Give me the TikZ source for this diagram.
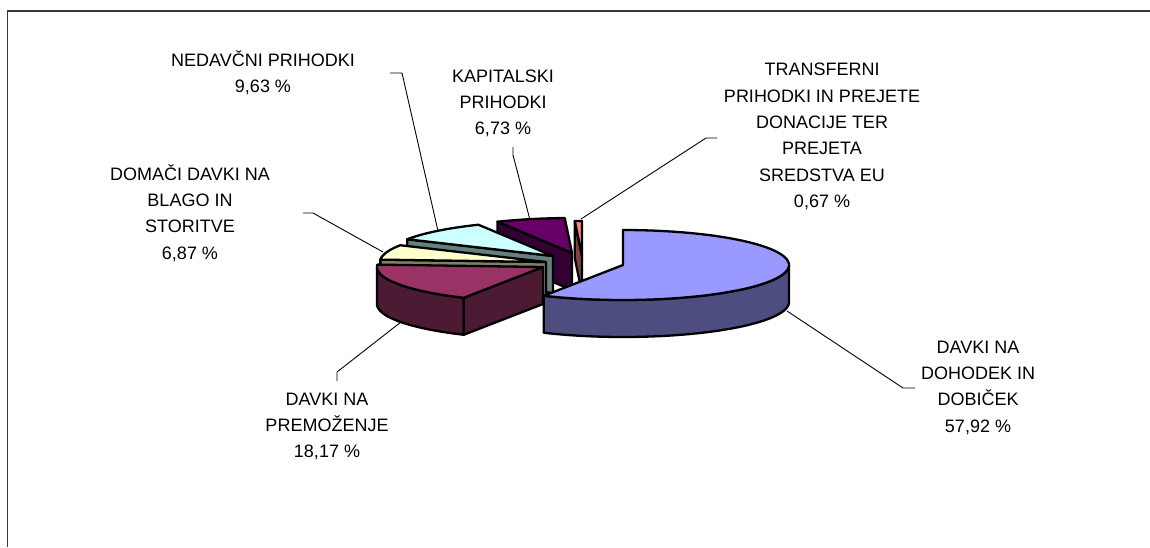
\documentclass[tikz,border=0pt]{standalone}
\usepackage{fontspec}
\setmainfont{Liberation Sans}
\definecolor{blueTop}{HTML}{9999FF}
\definecolor{blueSide}{HTML}{4D4D80}
\definecolor{plumTop}{HTML}{993366}
\definecolor{plumSide}{HTML}{4D1A33}
\definecolor{ivoryTop}{HTML}{FFFFCC}
\definecolor{ivorySide}{HTML}{808066}
\definecolor{aquaTop}{HTML}{CCFFFF}
\definecolor{aquaSide}{HTML}{668080}
\definecolor{purpTop}{HTML}{660066}
\definecolor{purpSide}{HTML}{330033}
\definecolor{coralTop}{HTML}{FF8080}
\definecolor{coralSide}{HTML}{804040}
\definecolor{frameGray}{HTML}{3A3A3A}
\newcommand\pieA{166}
\newcommand\pieB{35}
\newcommand\pieH{37}
% top face: center x, center y, angle from, angle to, colour
\newcommand\topface[5]{%
  \filldraw[piefill, fill=#5] ({#1},{#2}) -- plot[domain=#3:#4, samples=60] ({#1+\pieA*cos(\x)},{#2-\pieB*sin(\x)}) -- cycle;}
% outer side between two front angles
\newcommand\outerside[5]{%
  \filldraw[piefill, fill=#5] plot[domain=#3:#4, samples=60] ({#1+\pieA*cos(\x)},{#2-\pieB*sin(\x)}) -- plot[domain=#4:#3, samples=60] ({#1+\pieA*cos(\x)},{#2+\pieH-\pieB*sin(\x)}) -- cycle;}
% radial face at one angle
\newcommand\radface[4]{%
  \filldraw[piefill, fill=#4] ({#1},{#2}) -- ({#1+\pieA*cos(#3)},{#2-\pieB*sin(#3)}) -- ({#1+\pieA*cos(#3)},{#2+\pieH-\pieB*sin(#3)}) -- ({#1},{#2+\pieH}) -- cycle;}
\begin{document}
\begin{tikzpicture}[x=1pt,y=-1pt,
  piefill/.style={draw=black, line width=2.3pt, line join=round},
  leader/.style={draw=black, line width=0.9pt},
  frameline/.style={draw=frameGray, line width=1.4pt},
  lbl/.style={font=\fontsize{18}{26.3}\selectfont, align=center, inner sep=0pt, anchor=north}]
\useasboundingbox[fill=white] (0,0) rectangle (1150,547);
% frame
\coordinate (frBL) at (7.5,547);
\coordinate (frTL) at (7.5,11);
\coordinate (frTR) at (1150,11);
\draw[frameline] (frBL) -- (frTL) -- (frTR);
% slices, back to front
% transferni (coral)
\radface{582}{256}{92.5}{coralSide}
\topface{582}{256}{90}{92.5}{coralTop}
% kapitalski (purple)
\radface{572}{253}{116.7}{purpSide}
\topface{572}{253}{92.5}{116.7}{purpTop}
% nedavcni (aqua)
\radface{553}{256}{151.4}{aquaSide}
\topface{553}{256}{116.7}{151.4}{aquaTop}
% domaci (ivory)
\radface{546}{262}{176.1}{ivorySide}
\topface{546}{262}{151.4}{176.1}{ivoryTop}
% premozenje (plum)
\outerside{543}{267}{180}{241.5}{plumSide}
\radface{543}{267}{241.5}{plumSide}
\topface{543}{267}{176.1}{241.5}{plumTop}
% dohodek (blue)
\outerside{623}{265}{241.5}{360}{blueSide}
\topface{623}{265}{241.5}{450}{blueTop}
% labels
\node[lbl] (nedav) at (263,49) {\rule{0pt}{17pt}NEDAVČNI PRIHODKI\\9,63 \%};
\node[lbl] (kapit) at (503,65) {\rule{0pt}{17pt}KAPITALSKI\\PRIHODKI\\6,73 \%};
\node[lbl] (trans) at (822,58.7) {\rule{0pt}{17pt}TRANSFERNI\\PRIHODKI IN PREJETE\\DONACIJE TER\\PREJETA\\SREDSTVA EU\\0,67 \%};
\node[lbl] (domac) at (190,163) {\rule{0pt}{17pt}DOMAČI DAVKI NA\\BLAGO IN\\STORITVE\\6,87 \%};
\node[lbl] (premo) at (327,388) {\rule{0pt}{17pt}DAVKI NA\\PREMOŽENJE\\18,17 \%};
\node[lbl] (dohod) at (978,336) {\rule{0pt}{17pt}DAVKI NA\\DOHODEK IN\\DOBIČEK\\57,92 \%};
% leader lines
\coordinate (nedavA) at (390,73);
\coordinate (nedavB) at (402,73);
\coordinate (nedavC) at (438,231);
\draw[leader] (nedavA) -- (nedavB) -- (nedavC);
\coordinate (kapitA) at (513,147);
\coordinate (kapitB) at (513,155);
\coordinate (kapitC) at (530,220);
\draw[leader] (kapitA) -- (kapitB) -- (kapitC);
\coordinate (transA) at (717,138);
\coordinate (transB) at (706,138);
\coordinate (transC) at (581,219);
\draw[leader] (transA) -- (transB) -- (transC);
\coordinate (domacA) at (303,213);
\coordinate (domacB) at (313,213);
\coordinate (domacC) at (383,252);
\draw[leader] (domacA) -- (domacB) -- (domacC);
\coordinate (premoA) at (337,381);
\coordinate (premoB) at (337,372);
\coordinate (premoC) at (401,322);
\draw[leader] (premoA) -- (premoB) -- (premoC);
\coordinate (dohodA) at (915,388);
\coordinate (dohodB) at (903,388);
\coordinate (dohodC) at (787,311);
\draw[leader] (dohodA) -- (dohodB) -- (dohodC);
\end{tikzpicture}
\end{document}
